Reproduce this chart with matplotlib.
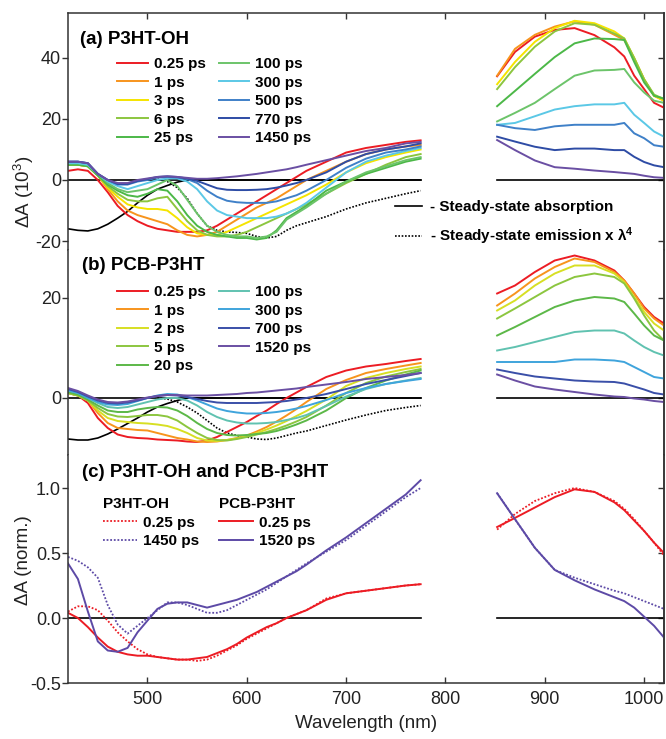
import matplotlib
matplotlib.use('Agg')
import matplotlib.pyplot as plt

plt.rcParams['font.family'] = ['Liberation Sans', 'DejaVu Sans']
plt.rcParams['mathtext.default'] = 'regular'
plt.rcParams['axes.unicode_minus'] = False

# wavelength grids (nm): visible probe window and near-IR probe window
wl_vis = [420, 430, 440, 450, 460, 470, 480, 490, 500, 510, 520, 530, 540, 550, 560,
          570, 580, 590, 600, 610, 620, 630, 640, 650, 660, 680, 700, 720, 740, 760, 775]
wl_nir = [852, 870, 890, 910, 930, 950, 970, 980, 990, 1000, 1010, 1020]
wl_emis = wl_vis[9:]

# (a) P3HT-OH transient spectra, dA x 10^3
labels_a = ['0.25 ps', '1 ps', '3 ps', '6 ps', '25 ps', '100 ps', '300 ps', '500 ps', '770 ps', '1450 ps']
colors_a = ['#ec1c24', '#f7941d', '#f5e400', '#8cc63f', '#4cb848', '#6cc46a',
            '#5bc8e6', '#3f80c8', '#2e4ca5', '#6a4fa3']
vis_a = [
    [3, 3.5, 3, 0, -4, -8.5, -11.5, -13.5, -15, -16, -16.5, -17, -17, -17, -16.5, -15, -13, -11, -9, -7, -5, -3, -1, 1, 3, 6, 9, 10.5, 11.5, 12.5, 13],
    [5, 5, 4.5, 1.5, -3, -7, -10, -11.5, -12.5, -13.5, -14.5, -16.5, -18, -18.5, -18, -17, -15, -13, -11, -9, -7.5, -6, -4, -2, 0, 3, 6, 8.5, 10, 11, 11.5],
    [5, 5, 4.5, 1.5, -2.5, -5.5, -8, -9, -9.5, -9.5, -10, -12.5, -15.5, -17.5, -18, -18, -17, -15.5, -14, -12.5, -11, -9.5, -8, -6.5, -5, -1.5, 2.5, 5.5, 7.5, 9, 10],
    [5, 5, 4.5, 1.5, -2, -4.5, -6.5, -7, -7, -6, -5.5, -9.5, -13.5, -16.5, -18, -18.5, -18.5, -18, -17, -15.5, -14, -12.5, -11, -9.5, -8, -4.5, -1, 2, 5, 7.5, 8.5],
    [5, 5, 4.5, 1.5, -1.5, -3.5, -5, -5.5, -4.5, -3, -3.5, -7, -11.5, -15, -17, -18, -18.5, -19, -19, -19.5, -19, -16.5, -12.5, -10.5, -8.5, -3.5, -0.5, 2, 4, 6, 7],
    [5.5, 5.5, 5, 2, -1, -3, -4, -3.5, -3, -1.5, 0, -2, -6.5, -11, -15, -17, -18, -18.5, -18.5, -19, -18.5, -17, -13, -11, -9, -4.5, -0.5, 2.5, 4.5, 6.5, 7.5],
    [5.5, 5.5, 5, 2, -0.5, -2, -3, -2, -1, 0, 0.5, 0.5, -0.5, -3, -7, -10, -11.5, -12, -12.5, -12.5, -12.5, -12, -11, -9.5, -7.5, -2.5, 2.5, 6, 8, 9.5, 10.5],
    [6, 6, 5.5, 2, 0, -1.5, -1.5, -0.5, 0, 0.8, 1, 0.8, 0.3, -1, -3.5, -5.5, -6.8, -7.3, -7.5, -7.5, -7.5, -7, -6, -5, -3.5, 0, 4, 7, 9, 10, 11],
    [6, 6, 5.5, 2, 0, -1.3, -1.3, -0.3, 0.3, 1, 1.2, 1, 0.5, -0.3, -1.5, -2.7, -3.2, -3.3, -3.3, -3.2, -3, -2.5, -1.8, -1, 0, 2.5, 6, 8.5, 10, 11, 12],
    [6, 6, 5.5, 2, 0, -1, -1, 0, 0.5, 1, 1.2, 1, 0.7, 0.4, 0.4, 0.6, 0.9, 1.2, 1.6, 2, 2.5, 3, 3.5, 4.2, 5, 6.5, 8, 9.5, 10.5, 12, 12.5],
]
nir_a = [
    [34, 42, 47, 49.2, 49.8, 47.5, 43.5, 40.5, 34.2, 29.8, 25.3, 23.7],
    [34.2, 43, 47.6, 50.3, 52, 50.9, 47.6, 45.9, 39.8, 33, 27.6, 26],
    [31.4, 38.7, 45.3, 49.8, 52.2, 51.4, 48.7, 46.4, 40, 33, 27.6, 26],
    [29.8, 37, 43.7, 48.7, 51.4, 50.9, 48, 46.4, 40, 33, 28, 26.5],
    [24.2, 29.2, 34.8, 40.3, 44.8, 46.4, 46.2, 45.9, 38.7, 32, 27.6, 26.7],
    [19.2, 22, 25.3, 29.8, 34.2, 35.9, 36.1, 36.4, 32, 28.7, 26, 25.3],
    [18.1, 18.7, 20.9, 23.1, 24.2, 24.8, 24.8, 25.3, 21.4, 18.7, 15.9, 14.2],
    [18.1, 17, 16.4, 17.6, 18.1, 18.1, 18.1, 18.7, 15.3, 13.7, 11.4, 10.9],
    [14.2, 12.6, 10.9, 9.8, 10.3, 10.3, 9.8, 9.8, 7.6, 5.9, 4.8, 4.2],
    [13.1, 9.8, 6.4, 4.2, 3.7, 3.1, 2.6, 2.3, 2, 1.4, 0.9, 0.7],
]
abs_a = [-16, -16.5, -16.7, -16, -14.5, -12.5, -10.3, -7.5, -5, -3, -1.8, -0.7, 0, 0, 0,
         0, 0, 0, 0, 0, 0, 0, 0, 0, 0, 0, 0, 0, 0, 0, 0]
emis_a = [0.3, -0.5, -2.5, -6, -11, -15, -16.5, -17, -17.2, -17.5, -18.5, -19, -18.5, -16.5,
          -15, -14, -12, -9.5, -7.5, -6, -4.5, -3.5]

# (b) PCB-P3HT transient spectra, dA x 10^3
labels_b = ['0.25 ps', '1 ps', '2 ps', '5 ps', '20 ps', '100 ps', '300 ps', '700 ps', '1520 ps']
colors_b = ['#ec1c24', '#f7941d', '#d7df23', '#8cc63f', '#5cb848', '#60c2b0',
            '#3fa4dc', '#3a4fa8', '#6a4fa3']
vis_b = [
    [1, 0.5, -1, -4, -6, -7.3, -7.8, -8, -8.1, -8.3, -8.4, -8.5, -8.7, -8.8, -8.5, -7.8, -6.8, -5.8, -4.8, -3.6, -2.5, -1.2, 0, 1.1, 2.2, 4.2, 5.5, 6.3, 6.8, 7.4, 7.8],
    [1, 0.5, -0.5, -3, -5, -6, -6.2, -6.4, -6.5, -7, -7.5, -8, -8.3, -8.7, -8.8, -8.7, -8.4, -8, -7.5, -6.7, -5.8, -4.7, -3.5, -2.2, -0.8, 1.8, 3.6, 5, 5.8, 6.5, 7],
    [1, 0.5, -0.5, -2.5, -4, -4.6, -4.8, -5, -5.1, -5.3, -5.6, -6.2, -7, -8, -8.5, -8.6, -8.4, -8.1, -7.6, -7, -6.3, -5.5, -4.6, -3.6, -2.6, -0.3, 2.4, 4, 5, 5.8, 6.3],
    [1, 0.5, -0.5, -2, -3.2, -3.7, -3.8, -3.6, -3.4, -3.4, -3.7, -4.5, -5.8, -7, -8, -8.4, -8.5, -8.2, -7.8, -7.3, -6.8, -6.2, -5.5, -4.7, -3.8, -1.5, 1, 3, 4.3, 5.2, 5.8],
    [1.2, 0.7, -0.3, -1.5, -2.5, -2.8, -2.8, -2.3, -2, -1.8, -1.9, -2.5, -3.6, -5, -6.2, -7, -7.4, -7.5, -7.4, -7.2, -7, -6.6, -6, -5.3, -4.5, -2.5, 0, 2, 3.5, 4.7, 5.5],
    [1.5, 1, 0, -1, -1.8, -2, -1.8, -1.3, -0.8, -0.3, 0, 0, -0.5, -1.5, -2.8, -3.8, -4.5, -4.9, -5.1, -5.1, -5, -4.8, -4.4, -4, -3.4, -1.6, 0.3, 1.8, 2.8, 3.5, 4],
    [1.5, 1, 0, -0.8, -1.3, -1.4, -1.2, -0.6, 0, 0.5, 0.8, 0.7, 0.2, -0.5, -1.3, -2.1, -2.6, -2.9, -3.1, -3.1, -3, -2.8, -2.5, -2.1, -1.6, -0.4, 1, 2, 2.8, 3.4, 3.8],
    [1.8, 1.2, 0.3, -0.5, -1, -1.1, -0.9, -0.5, 0, 0.4, 0.6, 0.5, 0.2, -0.2, -0.6, -0.9, -1, -1, -1, -1, -0.9, -0.8, -0.6, -0.3, 0, 0.8, 1.8, 2.8, 3.6, 4.4, 5],
    [2, 1.4, 0.5, -0.3, -0.8, -0.9, -0.7, -0.3, 0.1, 0.4, 0.6, 0.6, 0.5, 0.5, 0.5, 0.6, 0.7, 0.8, 1, 1.1, 1.3, 1.5, 1.7, 1.9, 2.2, 2.7, 3.2, 3.8, 4.2, 4.6, 5],
]
nir_b = [
    [20.9, 22.5, 25.2, 27.5, 28.5, 27.5, 25.5, 23.5, 20.9, 18.2, 16.2, 14.9],
    [18.5, 20.9, 23.9, 26.2, 27.9, 27.2, 25.2, 23.5, 20.9, 17.9, 15.9, 14.5],
    [17.5, 19.5, 22.5, 24.9, 26.5, 26.5, 24.9, 23.2, 20.2, 17.2, 14.9, 13.5],
    [15.9, 17.9, 20.2, 22.5, 24.2, 24.9, 24.2, 22.9, 19.9, 16.5, 13.5, 11.5],
    [12.5, 14.2, 16.2, 18.2, 19.5, 20.2, 19.9, 19.2, 16.9, 14.5, 12.5, 11.5],
    [9.5, 10.2, 11.2, 12.2, 13.2, 13.5, 13.5, 12.9, 11.5, 10.2, 9.2, 8.5],
    [7.2, 7.2, 7.2, 7.2, 7.7, 7.7, 7.5, 7.2, 6.2, 5.2, 4.2, 3.9],
    [5.7, 5.0, 4.3, 3.9, 3.5, 3.3, 3.2, 2.9, 2.3, 1.7, 1.0, 0.7],
    [4.7, 3.5, 2.3, 1.7, 1.2, 0.7, 0.3, 0.2, -0.1, -0.3, -0.6, -0.8],
]
abs_b = [-8.2, -8.4, -8.4, -8, -7.2, -6.2, -5.1, -4, -2.8, -1.8, -1.1, -0.5, 0, 0, 0,
         0, 0, 0, 0, 0, 0, 0, 0, 0, 0, 0, 0, 0, 0, 0, 0]
emis_b = [0, -0.2, -0.8, -1.8, -3, -4.5, -6, -7, -7.5, -7.8, -8.2, -8.3, -8, -7.5,
          -7, -6.6, -5.5, -4.4, -3.4, -2.5, -1.9, -1.5]

# (c) normalised spectra, early and late delays
oh_025_vis = [0.05, 0.09, 0.09, 0.06, -0.02, -0.11, -0.18, -0.24, -0.28, -0.30, -0.31, -0.32, -0.32, -0.33, -0.32, -0.29, -0.25, -0.21, -0.16, -0.12, -0.08, -0.04, 0, 0.03, 0.06, 0.15, 0.19, 0.21, 0.23, 0.25, 0.26]
oh_1450_vis = [0.47, 0.44, 0.39, 0.31, 0.10, -0.05, -0.12, -0.06, 0.0, 0.06, 0.12, 0.12, 0.10, 0.07, 0.04, 0.04, 0.06, 0.10, 0.14, 0.18, 0.22, 0.27, 0.32, 0.37, 0.42, 0.51, 0.60, 0.71, 0.82, 0.93, 1.0]
pcb_025_vis = [0.04, 0, -0.07, -0.15, -0.22, -0.26, -0.28, -0.29, -0.29, -0.30, -0.31, -0.32, -0.32, -0.31, -0.30, -0.27, -0.24, -0.20, -0.15, -0.11, -0.07, -0.04, 0, 0.03, 0.06, 0.14, 0.19, 0.21, 0.23, 0.25, 0.26]
pcb_1520_vis = [0.42, 0.30, 0.05, -0.18, -0.25, -0.26, -0.23, -0.11, -0.02, 0.07, 0.11, 0.12, 0.12, 0.10, 0.08, 0.10, 0.12, 0.14, 0.17, 0.20, 0.24, 0.28, 0.32, 0.36, 0.41, 0.52, 0.62, 0.73, 0.84, 0.95, 1.06]
oh_025_nir = [0.68, 0.80, 0.90, 0.96, 1.0, 0.97, 0.90, 0.84, 0.76, 0.67, 0.58, 0.48]
oh_1450_nir = [0.96, 0.76, 0.54, 0.37, 0.31, 0.26, 0.21, 0.19, 0.16, 0.13, 0.10, 0.07]
pcb_025_nir = [0.70, 0.77, 0.85, 0.93, 0.99, 0.97, 0.89, 0.83, 0.75, 0.67, 0.58, 0.50]
pcb_1520_nir = [0.96, 0.76, 0.54, 0.37, 0.29, 0.22, 0.16, 0.13, 0.08, 0.01, -0.06, -0.15]

RED = '#ec1c24'
PURPLE = '#5d4aa6'
SPINE = '#333333'
TXT = '#222222'
FIG_W, FIG_H = 666, 739

fig = plt.figure(figsize=(FIG_W / 100, FIG_H / 100), dpi=100)


def panel(top_px, bottom_px):
    return fig.add_axes([68 / FIG_W, 1 - bottom_px / FIG_H, 596 / FIG_W, (bottom_px - top_px) / FIG_H])


def fig_xy(x_px, y_px):
    return (x_px / FIG_W, 1 - y_px / FIG_H)


ax_a = panel(13, 250)
ax_b = panel(250, 455)
ax_c = panel(455, 683)

ax_a.set_ylim(-22.95, 54.75)
ax_b.set_ylim(-11.4, 29.6)
ax_c.set_ylim(-0.5, 1.254)
ax_a.set_yticks([-20, 0, 20, 40])
ax_b.set_yticks([0, 20])
ax_c.set_yticks([-0.5, 0.0, 0.5, 1.0])
ax_c.set_yticklabels(['-0.5', '0.0', '0.5', '1.0'])

for ax in (ax_a, ax_b, ax_c):
    ax.set_xlim(420, 1020)
    ax.set_xticks([500, 600, 700, 800, 900, 1000])
    for s in ax.spines.values():
        s.set_color(SPINE)
        s.set_linewidth(1.1)
    ax.tick_params(axis='y', direction='out', length=4, width=1, color=SPINE,
                   labelsize=13, labelcolor=TXT, pad=1)
    ax.tick_params(axis='x', direction='in', length=4, width=1, color=SPINE,
                   labelsize=13, labelcolor=TXT, pad=6)
    # right-hand ticks point inwards
    sec = ax.secondary_yaxis('right')
    sec.set_yticks(ax.get_yticks())
    sec.tick_params(direction='in', length=4, width=1, color=SPINE, labelright=False)
    sec.spines['right'].set_color(SPINE)
    sec.spines['right'].set_linewidth(1.1)
    # zero line, broken across the gap between the two detectors
    ax.plot([420, 775], [0, 0], color='black', lw=1.2, zorder=1)
    ax.plot([852, 1020], [0, 0], color='black', lw=1.2, zorder=1)

ax_a.spines['bottom'].set_visible(False)
ax_b.spines['top'].set_visible(False)
ax_b.spines['bottom'].set_visible(False)
ax_c.spines['top'].set_visible(False)
ax_a.tick_params(axis='x', top=True, bottom=False, labelbottom=False)
ax_b.tick_params(axis='x', top=False, bottom=False, labelbottom=False)
ax_c.tick_params(axis='x', top=False, bottom=True)

bold = {'family': ['Liberation Sans', 'DejaVu Sans'], 'weight': 'bold', 'size': 11}
leg_common = dict(loc='upper left', bbox_transform=fig.transFigure, frameon=False, prop=bold,
                  borderpad=0, borderaxespad=0)
delay_kw = dict(ncol=2, handlelength=2.0, handletextpad=0.4, columnspacing=0.85,
                labelspacing=0.3, **leg_common)

# panel (a)
ax_a.plot(wl_vis, abs_a, color='black', lw=1.2, zorder=2)
ax_a.plot(wl_emis, emis_a, color='black', lw=1.2, ls=(0, (1, 1)), zorder=2)
handles = []
for lab, col, v, n in zip(labels_a, colors_a, vis_a, nir_a):
    h, = ax_a.plot(wl_vis, v, color=col, lw=1.4, label=lab)
    ax_a.plot(wl_nir, n, color=col, lw=1.4)
    handles.append(h)
leg_a = ax_a.legend(handles=handles, bbox_to_anchor=fig_xy(117, 57), **delay_kw)
ax_a.add_artist(leg_a)
ax_a.text(*fig_xy(80, 40), '(a) P3HT-OH', transform=fig.transFigure,
          fontsize=13.5, fontweight='bold', va='center', ha='left')

ss_abs, = ax_a.plot([], [], color='black', lw=1.2, label='- Steady-state absorption')
ss_emis, = ax_a.plot([], [], color='black', lw=1.2, ls=(0, (1, 1)),
                     label='- Steady-state emission x \u03bb$^4$')
ax_a.legend(handles=[ss_abs, ss_emis], bbox_to_anchor=fig_xy(395, 200),
            handlelength=1.75, handletextpad=0.55, labelspacing=0.75, **leg_common)

# panel (b)
ax_b.plot(wl_vis, abs_b, color='black', lw=1.2, zorder=2)
ax_b.plot(wl_emis, emis_b, color='black', lw=1.2, ls=(0, (1, 1)), zorder=2)
handles = []
for lab, col, v, n in zip(labels_b, colors_b, vis_b, nir_b):
    h, = ax_b.plot(wl_vis, v, color=col, lw=1.4, label=lab)
    ax_b.plot(wl_nir, n, color=col, lw=1.4)
    handles.append(h)
ax_b.legend(handles=handles, bbox_to_anchor=fig_xy(117, 285), **delay_kw)
ax_b.text(*fig_xy(82, 265), '(b) PCB-P3HT', transform=fig.transFigure,
          fontsize=13.5, fontweight='bold', va='center', ha='left')

# panel (c)
dot = (0, (1, 1))
l1, = ax_c.plot(wl_vis, oh_025_vis, color=RED, lw=1.3, ls=dot, label='0.25 ps')
ax_c.plot(wl_nir, oh_025_nir, color=RED, lw=1.3, ls=dot)
l2, = ax_c.plot(wl_vis, oh_1450_vis, color=PURPLE, lw=1.3, ls=dot, label='1450 ps')
ax_c.plot(wl_nir, oh_1450_nir, color=PURPLE, lw=1.3, ls=dot)
l3, = ax_c.plot(wl_vis, pcb_025_vis, color=RED, lw=1.4, label='0.25 ps')
ax_c.plot(wl_nir, pcb_025_nir, color=RED, lw=1.4)
l4, = ax_c.plot(wl_vis, pcb_1520_vis, color=PURPLE, lw=1.4, label='1520 ps')
ax_c.plot(wl_nir, pcb_1520_nir, color=PURPLE, lw=1.4)

pair_kw = dict(title_fontproperties=bold, alignment='left', handlelength=2.2,
               handletextpad=0.4, labelspacing=0.3, **leg_common)
leg_oh = ax_c.legend(handles=[l1, l2], title='P3HT-OH', bbox_to_anchor=fig_xy(103, 497), **pair_kw)
ax_c.add_artist(leg_oh)
ax_c.legend(handles=[l3, l4], title='PCB-P3HT', bbox_to_anchor=fig_xy(219, 497), **pair_kw)
ax_c.text(*fig_xy(82, 473), '(c) P3HT-OH and PCB-P3HT', transform=fig.transFigure,
          fontsize=13.5, fontweight='bold', va='center', ha='left')

# axis titles
fig.text(*fig_xy(24, 192), '\u0394A (10$^3$)', rotation=90, ha='center', va='center',
         fontsize=13.5, color=TXT)
fig.text(*fig_xy(24, 560), '\u0394A (norm.)', rotation=90, ha='center', va='center',
         fontsize=13.5, color=TXT)
fig.text(*fig_xy(366, 724), 'Wavelength (nm)', ha='center', va='center',
         fontsize=13.5, color=TXT)

fig.savefig('out.png', dpi=100)
